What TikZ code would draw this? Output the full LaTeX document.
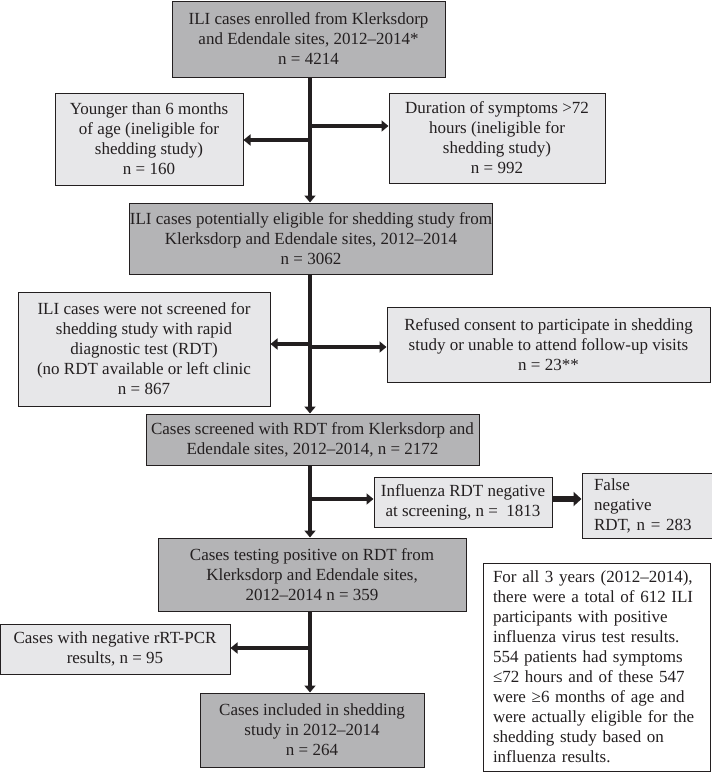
\documentclass[tikz,border=0pt]{standalone}
\usepackage{fontspec}
\setmainfont{Liberation Serif}
\usetikzlibrary{arrows.meta}
\definecolor{dkbox}{HTML}{B4B4B6}
\definecolor{ltbox}{HTML}{E7E7E9}
\definecolor{ink}{HTML}{231F20}
\begin{document}
\begin{tikzpicture}[x=1pt,y=-1pt,
  box/.style={draw=ink,line width=1pt,inner sep=0pt,align=center,text=ink,
    font=\fontsize{17}{20}\selectfont},
  dark/.style={box,fill=dkbox},
  light/.style={box,fill=ltbox},
  note/.style={box,fill=white,align=left},
  arr/.style={draw=ink,line width=4pt,-{Triangle[length=7pt,width=11pt]}},
  arrb/.style={draw=ink,line width=6pt,-{Triangle[length=8pt,width=14pt]}}]
\useasboundingbox (0,0) rectangle (712,772);
\node[dark,minimum width=273pt,minimum height=76pt] (b1) at (308.5,39)
  {ILI cases enrolled from Klerksdorp\\and Edendale sites, 2012–2014*\\n = 4214};
\node[light,minimum width=188pt,minimum height=92pt] (b2) at (149,139)
  {Younger than 6 months\\of age (ineligible for\\shedding study)\\n = 160};
\node[light,minimum width=216pt,minimum height=90pt] (b3) at (497,138)
  {Duration of symptoms >72\\hours (ineligible for\\shedding study)\\n = 992};
\node[dark,minimum width=360pt,minimum height=71pt] (b4) at (311,238.5)
  {ILI cases potentially eligible for shedding study from\\Klerksdorp and Edendale sites, 2012–2014\\n = 3062};
\node[light,minimum width=252pt,minimum height=114pt] (b5) at (144,349)
  {ILI cases were not screened for\\shedding study with rapid\\diagnostic test (RDT)\\(no RDT available or left clinic\\n = 867};
\node[light,minimum width=323pt,minimum height=75pt] (b6) at (548.5,344.5)
  {Refused consent to participate in shedding\\study or unable to attend follow-up visits\\n = 23**};
\node[dark,minimum width=333pt,minimum height=51pt] (b7) at (312.5,439.5)
  {Cases screened with RDT from Klerksdorp and\\Edendale sites, 2012–2014, n = 2172};
\node[light,minimum width=178pt,minimum height=50pt] (b8) at (463,502)
  {Influenza RDT negative\\at screening, n = \ 1813};
\node[light,minimum width=130pt,minimum height=65pt,align=left,text width=106pt] (b9) at (647,505.5)
  {False\\negative\\RDT, n = 283};
\node[note,minimum width=227pt,minimum height=208pt,text width=207pt] (b13) at (596.5,667)
  {For all 3 years (2012–2014),\\there were a total of 612 ILI\\participants with positive\\influenza virus test results.\\554 patients had symptoms\\≤72 hours and of these 547\\were ≥6 months of age and\\were actually eligible for the\\shedding study based on\\influenza results.};
\node[dark,minimum width=308pt,minimum height=73pt] (b10) at (312,574.5)
  {Cases testing positive on RDT from\\Klerksdorp and Edendale sites,\\2012–2014 n = 359};
\node[light,minimum width=230pt,minimum height=50pt] (b11) at (115,649)
  {Cases with negative rRT-PCR\\results, n = 95};
\node[dark,minimum width=224pt,minimum height=74pt] (b12) at (312,730)
  {Cases included in shedding\\study in 2012–2014\\n = 264};
\coordinate (T) at (310,0);
\coordinate (j1) at (310,140);
\coordinate (j2) at (310,126);
\coordinate (j3) at (310,344);
\coordinate (j4) at (310,347);
\coordinate (j5) at (310,499);
\coordinate (j6) at (310,648);
% trunk
\draw[arr] (b1.south -| T) -- (b4.north -| T);
\draw[arr] (b4.south -| T) -- (b7.north -| T);
\draw[arr] (b7.south -| T) -- (b10.north -| T);
\draw[arr] (b10.south -| T) -- (b12.north -| T);
% branches
\draw[arr] (j1) -- (j1 -| b2.east);
\draw[arr] (j2) -- (j2 -| b3.west);
\draw[arr] (j3) -- (j3 -| b5.east);
\draw[arr] (j4) -- (j4 -| b6.west);
\draw[arr] (j5) -- (j5 -| b8.west);
\draw[arr] (j6) -- (j6 -| b11.east);
\draw[arrb] (b8.east |- j5) -- (b9.west |- j5);
\end{tikzpicture}
\end{document}
